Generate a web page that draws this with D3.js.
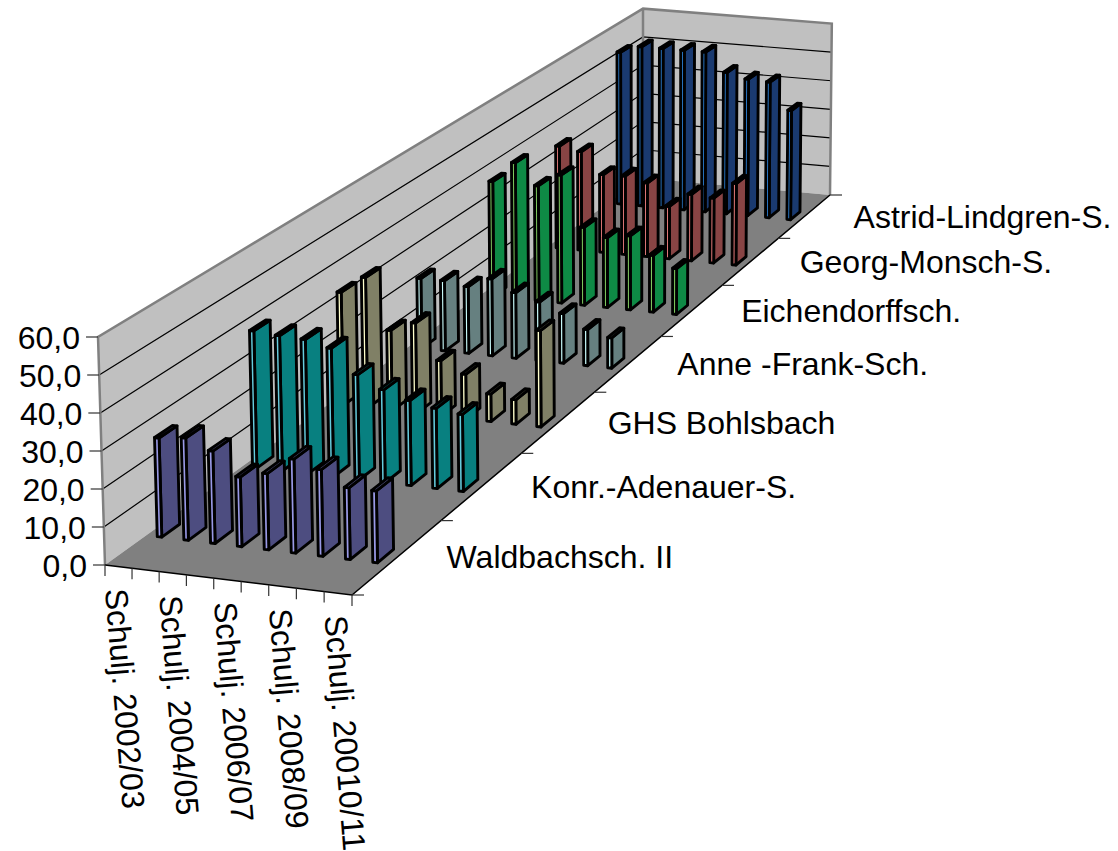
<!DOCTYPE html>
<html>
<head>
<meta charset="utf-8">
<script src="https://cdn.jsdelivr.net/npm/d3@7"></script>
<style>
html, body { margin: 0; padding: 0; background: #fff; overflow: hidden; }
text { font-family: "Liberation Sans", Arial, sans-serif; font-size: 32px; fill: #000; }
</style>
</head>
<body>
<script>
var years = ["2002/03", "2003/04", "2004/05", "2005/06", "2006/07", "2007/08", "2008/09", "2009/10", "20010/11"];
var schools = ["Waldbachsch. II", "Konr.-Adenauer-S.", "GHS Bohlsbach", "Anne -Frank-Sch.", "Eichendorffsch.", "Georg-Monsch-S.", "Astrid-Lindgren-S."];

var waldbach = [26.6, 27.4, 24.7, 18.6, 20.3, 25.0, 23.0, 19.0, 19.0];
var adenauer = [38.6, 38.0, 37.7, 36.0, 29.3, 25.9, 23.7, 22.3, 21.4];
var bohlsbach = [33.3, 38.4, 23.6, 26.5, 16.2, 13.0, 8.0, 7.1, 28.0];
var anneFrank = [21.5, 21.5, 20.4, 23.5, 20.0, 17.9, 15.1, 11.0, 9.2];
var eichendorff = [36.7, 43.4, 36.7, 40.8, 24.8, 22.2, 23.5, 18.0, 14.5];
var georgMonsch = [34.0, 32.8, 25.8, 26.0, 24.4, 17.3, 22.0, 21.4, 26.9];
var astrid = [52.5, 55.0, 55.0, 55.0, 55.0, 48.6, 46.9, 46.5, 37.4];
var values = [waldbach, adenauer, bohlsbach, anneFrank, eichendorff, georgMonsch, astrid];

// side, front, top colour per school
var sideColors = ["#4d4d80", "#088080", "#808066", "#668080", "#0e8a45", "#884444", "#1a3a70"];
var frontColors = ["#9999e6", "#66ccdd", "#ffffcc", "#ccffff", "#80cc60", "#ff8888", "#3399ff"];
var topColors = ["#6a6aa8", "#0aa0a0", "#a0a080", "#80a0a0", "#10a050", "#aa5555", "#204890"];

var width = 1118, height = 851;

// floor corners: front left, front right, back right, back left
var p0 = [105, 565], p1 = [352, 595], p2 = [830, 195], p3 = [643, 178];
var wallHeight = 228, lean = 5.7e-5, leanX = 643;

var dx1 = p1[0]-p2[0], dx2 = p3[0]-p2[0], dx3 = p0[0]-p1[0]+p2[0]-p3[0];
var dy1 = p1[1]-p2[1], dy2 = p3[1]-p2[1], dy3 = p0[1]-p1[1]+p2[1]-p3[1];
var det = dx1*dy2 - dx2*dy1;
var g = (dx3*dy2 - dx2*dy3)/det, h = (dx1*dy3 - dx3*dy1)/det;
var a = p1[0]-p0[0]+g*p1[0], b = p3[0]-p0[0]+h*p3[0];
var d = p1[1]-p0[1]+g*p1[1], e = p3[1]-p0[1]+h*p3[1];

// u along the years, v into the depth, z in pixels at the front
function project(u, v, z) {
    var w = g*u + h*v + 1;
    var x = (a*u + b*v + p0[0])/w;
    var y = (d*u + e*v + p0[1])/w;
    var up = z/Math.pow(w, 0.957);
    return [x + (x-leanX)*lean*up, y - up];
}

function path(points) {
    return "M" + points.map(function(p) {return p[0]+","+p[1]}).join("L") + "Z";
}

var yearScale = d3.scaleBand().domain(years).range([0, 1]).paddingInner(0.83).paddingOuter(0.415);
var schoolScale = d3.scaleBand().domain(schools).range([0, 1]).paddingInner(0.82).paddingOuter(0.41).align(0.49);
var zScale = d3.scaleLinear().domain([0, 60]).range([0, wallHeight]);
var yearStep = yearScale.step(), schoolStep = schoolScale.step();
var fmt = d3.formatLocale({decimal: ",", thousands: ".", grouping: [3], currency: ["", "€"]}).format(".1f");

var svg = d3.select("body").append("svg").attr("width", width).attr("height", height);

// walls and floor
var zTop = zScale(60);
svg.append("path").attr("fill", "#c0c0c0")
    .attr("d", path([project(0,0,0), project(0,0,zTop), project(0,1,zTop), project(0,1,0)]));
svg.append("path").attr("fill", "#c0c0c0")
    .attr("d", path([project(0,1,0), project(0,1,zTop), project(1,1,zTop), project(1,1,0)]));
svg.append("path").attr("fill", "#808080")
    .attr("d", path([project(0,0,0), project(1,0,0), project(1,1,0), project(0,1,0)]));

// grid lines
var grid = zScale.ticks(6).filter(function(t) {return t > 0 && t < 60});
svg.selectAll(".grid").data(grid).enter().append("path")
    .attr("class", "grid").attr("fill", "none").attr("stroke", "#000").attr("stroke-width", 1.2)
    .attr("d", function(t) {
        var z = zScale(t);
        return "M" + [project(0,0,z), project(0,1,z), project(1,1,z)].join("L");
    });

// wall borders
svg.append("path").attr("fill", "none").attr("stroke", "#808080").attr("stroke-width", 2.5)
    .attr("d", "M" + [project(0,0,0), project(0,0,zTop), project(0,1,zTop), project(1,1,zTop), project(1,1,0)].join("L")
        + "M" + [project(0,1,zTop), project(0,1,0)].join("L"));

// floor edges
svg.append("path").attr("fill", "none").attr("stroke", "#000").attr("stroke-width", 1.5)
    .attr("d", "M" + [project(0,0,0), project(1,0,0), project(1,1,0)].join("L"));

// value axis
var valueAxis = svg.selectAll(".vtick").data(zScale.ticks(6)).enter().append("g").attr("class", "vtick");
valueAxis.append("line").attr("stroke", "#333").attr("stroke-width", 1.2)
    .attr("x1", function(t) {return project(0,0,zScale(t))[0]-12})
    .attr("x2", function(t) {return project(0,0,zScale(t))[0]})
    .attr("y1", function(t) {return project(0,0,zScale(t))[1]})
    .attr("y2", function(t) {return project(0,0,zScale(t))[1]});
valueAxis.append("text").attr("text-anchor", "end").attr("dy", "0.36em")
    .attr("x", function(t) {return project(0,0,zScale(t))[0]-18})
    .attr("y", function(t) {return project(0,0,zScale(t))[1]})
    .text(fmt);

// year axis
var yearTicks = d3.range(years.length + 1);
svg.selectAll(".ytick").data(yearTicks).enter().append("line").attr("class", "ytick")
    .attr("stroke", "#333").attr("stroke-width", 1.2)
    .attr("x1", function(i) {return project(i*yearStep,0,0)[0]})
    .attr("x2", function(i) {return project(i*yearStep,0,0)[0]})
    .attr("y1", function(i) {return project(i*yearStep,0,0)[1]})
    .attr("y2", function(i) {return project(i*yearStep,0,0)[1]+11});
svg.selectAll(".ylabel").data(years.filter(function(y, i) {return i%2==0})).enter().append("text")
    .attr("class", "ylabel")
    .attr("transform", function(y) {
        var p = project(yearScale(y)+yearScale.bandwidth()/2, 0, 0);
        return "translate("+(p[0]-2)+","+(p[1]+22)+") rotate(85.4)";
    })
    .attr("dy", "0.36em")
    .text(function(y) {return "Schulj. "+y});

// school axis
svg.selectAll(".stick").data(d3.range(schools.length + 1)).enter().append("line").attr("class", "stick")
    .attr("stroke", "#333").attr("stroke-width", 1.2)
    .attr("x1", function(i) {return project(1,i*schoolStep,0)[0]})
    .attr("x2", function(i) {return project(1,i*schoolStep,0)[0]+12})
    .attr("y1", function(i) {return project(1,i*schoolStep,0)[1]})
    .attr("y2", function(i) {return project(1,i*schoolStep,0)[1]});
svg.selectAll(".slabel").data(schools).enter().append("text").attr("class", "slabel")
    .attr("x", function(s, i) {return project(1,(i+0.5)*schoolStep,0)[0]+49})
    .attr("y", function(s, i) {return project(1,(i+0.5)*schoolStep,0)[1]})
    .attr("dy", "0.36em")
    .text(function(s) {return s});

// bars, back row first
var rows = svg.selectAll(".row").data(d3.range(schools.length).reverse()).enter()
    .append("g").attr("class", "row");

var bars = rows.selectAll(".bar").data(function(s) {
        return values[s].map(function(val, i) {return {s: s, year: years[i], val: val}});
    }).enter().append("g").attr("class", "bar")
    .attr("stroke", "#000").attr("stroke-width", 2.9).attr("stroke-linejoin", "round");

function corners(b) {
    var u0 = yearScale(b.year), u1 = u0 + yearScale.bandwidth();
    var v0 = schoolScale(schools[b.s]), v1 = v0 + schoolScale.bandwidth();
    return {u0: u0, u1: u1, v0: v0, v1: v1, z: zScale(b.val)};
}

bars.append("path").attr("fill", function(b) {return sideColors[b.s]})
    .attr("d", function(b) {
        var c = corners(b);
        return path([project(c.u1,c.v0,0), project(c.u1,c.v1,0), project(c.u1,c.v1,c.z), project(c.u1,c.v0,c.z)]);
    });
bars.append("path").attr("fill", function(b) {return frontColors[b.s]})
    .attr("d", function(b) {
        var c = corners(b);
        return path([project(c.u0,c.v0,0), project(c.u1,c.v0,0), project(c.u1,c.v0,c.z), project(c.u0,c.v0,c.z)]);
    });
bars.append("path").attr("fill", function(b) {return topColors[b.s]})
    .attr("d", function(b) {
        var c = corners(b);
        return path([project(c.u0,c.v0,c.z), project(c.u1,c.v0,c.z), project(c.u1,c.v1,c.z), project(c.u0,c.v1,c.z)]);
    });
</script>
</body>
</html>
